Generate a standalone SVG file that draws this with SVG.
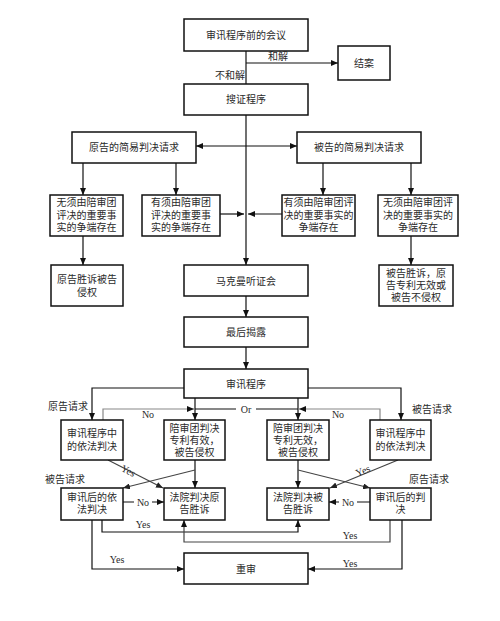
<svg xmlns="http://www.w3.org/2000/svg" width="500" height="621" viewBox="0 0 500 621">
<defs>
<marker id="a" markerUnits="userSpaceOnUse" markerWidth="7" markerHeight="6" refX="7" refY="3" orient="auto-start-reverse"><path d="M0,0 L7,3 L0,6 z" fill="#111"/></marker>
<marker id="ag" markerUnits="userSpaceOnUse" markerWidth="7" markerHeight="6" refX="7" refY="3" orient="auto"><path d="M0,0 L7,3 L0,6 z" fill="#222"/></marker>
<style>
rect{fill:#fff;stroke:#111;stroke-width:1.5}
text{font-family:"Liberation Serif","Noto Sans CJK SC",serif;font-size:10px;fill:#2a2a2a;text-anchor:middle}
text.l{font-family:"Liberation Serif",serif;font-size:10px}
.c path,.c line{fill:none;stroke:#111;stroke-width:1.2}
.c .g{stroke:#888}
.c .d{stroke:#444}
</style>
</defs>
<rect x="0" y="0" width="500" height="621" style="fill:#fff;stroke:none"/>
<g class="c" id="connectors">
<line x1="246" y1="51" x2="246" y2="84"/>
<line x1="246" y1="63" x2="338" y2="63" marker-end="url(#a)"/>
<line x1="246" y1="115" x2="246" y2="265" marker-end="url(#a)"/>
<line x1="196" y1="146" x2="297" y2="146" marker-start="url(#a)" marker-end="url(#a)"/>
<line x1="83" y1="163" x2="83" y2="195" marker-end="url(#a)"/>
<line x1="176" y1="163" x2="176" y2="195" marker-end="url(#a)"/>
<line x1="323" y1="163" x2="323" y2="195" marker-end="url(#a)"/>
<line x1="411" y1="163" x2="411" y2="195" marker-end="url(#a)"/>
<line x1="220" y1="214" x2="244" y2="214" marker-end="url(#a)"/>
<line x1="282" y1="214" x2="248" y2="214" marker-end="url(#a)"/>
<line x1="83" y1="236" x2="83" y2="265" marker-end="url(#a)"/>
<line x1="411" y1="236" x2="411" y2="265" marker-end="url(#a)"/>
<line x1="246" y1="296" x2="246" y2="317" marker-end="url(#a)"/>
<line x1="246" y1="347" x2="246" y2="369" marker-end="url(#a)"/>
<path d="M184,388 H92 V420" marker-end="url(#a)"/>
<path d="M308,388 H401 V420" marker-end="url(#a)"/>
<line x1="195" y1="398" x2="195" y2="420" marker-end="url(#a)"/>
<line x1="298" y1="398" x2="298" y2="420" marker-end="url(#a)"/>
<line x1="195" y1="409" x2="298" y2="409"/>
<path class="g" d="M103,420 V409 H194" marker-end="url(#a)"/>
<path class="g" d="M380,420 V409 H299" marker-end="url(#a)"/>
<line class="d" x1="108" y1="460" x2="163" y2="488" marker-end="url(#ag)"/>
<line x1="195" y1="460" x2="195" y2="488" marker-end="url(#a)"/>
<line class="d" x1="195" y1="470" x2="123" y2="488" marker-end="url(#ag)"/>
<line class="d" x1="398" y1="460" x2="330" y2="488" marker-end="url(#ag)"/>
<line x1="298" y1="460" x2="298" y2="488" marker-end="url(#a)"/>
<line class="d" x1="298" y1="470" x2="370" y2="488" marker-end="url(#ag)"/>
<line x1="123" y1="502" x2="164" y2="502" marker-end="url(#a)"/>
<line x1="370" y1="502" x2="329" y2="502" marker-end="url(#a)"/>
<path d="M102,520 V532 H298 V520" marker-end="url(#a)"/>
<path class="d" d="M390,520 V542 H184 V520" marker-end="url(#a)"/>
<path d="M92,520 V569 H184" marker-end="url(#a)"/>
<path d="M402,520 V569 H308" marker-end="url(#a)"/>
</g>
<g id="labels">
<text x="278" y="60">和解</text>
<text x="230" y="79">不和解</text>
<text x="68" y="410">原告请求</text>
<text x="432" y="413">被告请求</text>
<text x="65" y="483">被告请求</text>
<text x="429" y="483">原告请求</text>
<rect x="236" y="403" width="20" height="12" style="stroke:none"/>
<text class="l" x="246" y="412.5">Or</text>
<text class="l" x="148" y="418">No</text>
<text class="l" x="338" y="418">No</text>
<text class="l" x="128" y="474" transform="rotate(26.6 128 471)">Yes</text>
<text class="l" x="363" y="474" transform="rotate(-22 363 471)">Yes</text>
<rect x="134" y="496" width="18" height="11" style="stroke:none"/>
<text class="l" x="143" y="505.5">No</text>
<rect x="339" y="496" width="18" height="11" style="stroke:none"/>
<text class="l" x="348" y="505.5">No</text>
<text class="l" x="143" y="528">Yes</text>
<text class="l" x="350" y="538.5">Yes</text>
<text class="l" x="117" y="563">Yes</text>
<text class="l" x="350" y="567">Yes</text>
</g>
<g id="n1"><rect x="184" y="19" width="124" height="32"/><text x="246" y="38.5">审讯程序前的会议</text></g>
<g id="n2"><rect x="338" y="46" width="52" height="34"/><text x="364" y="66.5">结案</text></g>
<g id="n3"><rect x="184" y="84" width="124" height="31"/><text x="246" y="103">搜证程序</text></g>
<g id="n4"><rect x="72" y="132" width="124" height="31"/><text x="134" y="151">原告的简易判决请求</text></g>
<g id="n5"><rect x="297" y="132" width="124" height="31"/><text x="359" y="151">被告的简易判决请求</text></g>
<g id="n6"><rect x="50" y="195" width="73" height="41"/><text x="86.5" y="206">无须由陪审团</text><text x="86.5" y="218.5">评决的重要事</text><text x="86.5" y="231">实的争端存在</text></g>
<g id="n7"><rect x="142" y="195" width="78" height="41"/><text x="181" y="206">有须由陪审团</text><text x="181" y="218.5">评决的重要事</text><text x="181" y="231">实的争端存在</text></g>
<g id="n8"><rect x="282" y="195" width="73" height="41"/><text x="318.5" y="206">有须由陪审团评</text><text x="318.5" y="218.5">决的重要事实的</text><text x="318.5" y="231">争端存在</text></g>
<g id="n9"><rect x="378" y="195" width="80" height="41"/><text x="418" y="206">无须由陪审团评</text><text x="418" y="218.5">决的重要事实的</text><text x="418" y="231">争端存在</text></g>
<g id="n10"><rect x="51" y="265" width="72" height="41"/><text x="87" y="283">原告胜诉被告</text><text x="87" y="296">侵权</text></g>
<g id="n11"><rect x="184" y="265" width="124" height="31"/><text x="246" y="284.5">马克曼听证会</text></g>
<g id="n12"><rect x="379" y="265" width="74" height="41"/><text x="416" y="277">被告胜诉，原</text><text x="416" y="289">告专利无效或</text><text x="416" y="301">被告不侵权</text></g>
<g id="n13"><rect x="184" y="317" width="124" height="30"/><text x="246" y="335.5">最后揭露</text></g>
<g id="n14"><rect x="184" y="369" width="124" height="29"/><text x="246" y="387.5">审讯程序</text></g>
<g id="n15"><rect x="61" y="420" width="62" height="40"/><text x="92" y="436.5">审讯程序中</text><text x="92" y="449.5">的依法判决</text></g>
<g id="n16"><rect x="164" y="420" width="61" height="40"/><text x="194.5" y="431.5">陪审团判决</text><text x="194.5" y="443.5">专利有效，</text><text x="194.5" y="455.5">被告侵权</text></g>
<g id="n17"><rect x="267" y="420" width="62" height="40"/><text x="298" y="431.5">陪审团判决</text><text x="298" y="443.5">专利无效，</text><text x="298" y="455.5">被告侵权</text></g>
<g id="n18"><rect x="370" y="420" width="61" height="40"/><text x="400.5" y="436.5">审讯程序中</text><text x="400.5" y="449.5">的依法判决</text></g>
<g id="n19"><rect x="61" y="488" width="62" height="32"/><text x="92" y="500.5">审讯后的依</text><text x="92" y="513">法判决</text></g>
<g id="n20"><rect x="164" y="488" width="61" height="32"/><text x="194.5" y="500.5">法院判决原</text><text x="194.5" y="513">告胜诉</text></g>
<g id="n21"><rect x="267" y="488" width="62" height="32"/><text x="298" y="500.5">法院判决被</text><text x="298" y="513">告胜诉</text></g>
<g id="n22"><rect x="370" y="488" width="61" height="32"/><text x="400.5" y="500.5">审讯后的判</text><text x="400.5" y="513">决</text></g>
<g id="n23"><rect x="184" y="553" width="124" height="31"/><text x="246" y="572.5">重审</text></g>
</svg>
